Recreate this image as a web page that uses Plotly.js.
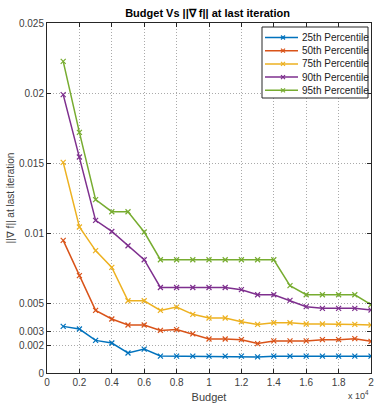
<!DOCTYPE html>
<html>
<head>
<meta charset="utf-8">
<script src="https://cdn.plot.ly/plotly-3.0.1.min.js"></script>
<style>html,body{margin:0;padding:0;background:#fff;}#chart{width:374px;height:404px;}</style>
</head>
<body>
<div id="chart"></div>
<script>
const budget = [1000,2000,3000,4000,5000,6000,7000,8000,9000,10000,11000,12000,13000,14000,15000,16000,17000,18000,19000,20000];
const p25 = [0.00333,0.00314,0.00233,0.00214,0.00143,0.00171,0.00121,0.0012,0.0012,0.0012,0.0012,0.0012,0.00115,0.0012,0.0012,0.0012,0.0012,0.0012,0.0012,0.0012];
const p50 = [0.00947,0.00695,0.00447,0.00386,0.00343,0.00343,0.00304,0.0031,0.00279,0.00243,0.00243,0.00238,0.0021,0.00229,0.00229,0.00229,0.00238,0.00238,0.00245,0.00226];
const p75 = [0.01504,0.01043,0.00874,0.00754,0.00516,0.00516,0.00447,0.00471,0.00419,0.00393,0.00393,0.00366,0.00347,0.00359,0.00359,0.0035,0.0035,0.0035,0.00347,0.00343];
const p90 = [0.01988,0.01543,0.0109,0.01011,0.00909,0.00809,0.00611,0.00611,0.00611,0.00611,0.00611,0.00595,0.00559,0.00559,0.00519,0.00474,0.00462,0.00462,0.00462,0.0045];
const p95 = [0.02226,0.01719,0.01238,0.01152,0.01152,0.01007,0.00809,0.00809,0.00809,0.00809,0.00809,0.00809,0.00809,0.00809,0.00624,0.00559,0.00559,0.00559,0.00559,0.00488];
const seriesNames = ['25th Percentile','50th Percentile','75th Percentile','90th Percentile','95th Percentile'];
const seriesData = [p25,p50,p75,p90,p95];
const colors = ['#0072BD','#D95319','#EDB120','#7E2F8E','#77AC30'];
const xTickVals = [0,2000,4000,6000,8000,10000,12000,14000,16000,18000,20000];
const xTickText = ['0','0.2','0.4','0.6','0.8','1','1.2','1.4','1.6','1.8','2'];
const yTickVals = [0,0.002,0.003,0.005,0.01,0.015,0.02,0.025];
const yTickText = ['0','0.002','0.003','0.005','0.01','0.015','0.02','0.025'];

const FONT = 'Liberation Sans, Arial, sans-serif';
const traces = seriesData.map((d,i)=>({
  x: budget, y: d, name: seriesNames[i], type:'scatter', mode:'lines+markers', showlegend:false,
  line:{color:colors[i], width:1.5},
  marker:{symbol:'x-thin-open', size:5, color:colors[i], line:{color:colors[i], width:1.2}}
}));

const axisCommon = {
  showline:true, linecolor:'#262626', linewidth:1, mirror:'ticks',
  ticks:'inside', ticklen:4, tickcolor:'#262626',
  showgrid:true, gridcolor:'#aaaaaa', griddash:'1px,2px', gridwidth:1,
  zeroline:false, ticklabeloverflow:'allow',
  tickfont:{family:FONT, size:10, color:'#404040'}
};

// manual legend (pixel layout converted to paper coords)
const PL = 47, PW = 324, PB = 373, PH = 350;
const px = v => (v - PL) / PW;
const py = v => (PB - v) / PH;
const shapes = [{type:'rect', xref:'paper', yref:'paper', x0:px(262), x1:px(368), y0:py(98), y1:py(27),
  line:{color:'#262626', width:1}, fillcolor:'#fff', layer:'above'}];
const annotations = [];
seriesNames.forEach((n,i)=>{
  const cy = 37.5 + i*13.2;
  shapes.push({type:'line', xref:'paper', yref:'paper', x0:px(265), x1:px(298), y0:py(cy), y1:py(cy),
    line:{color:colors[i], width:1.5}, layer:'above'});
  shapes.push({type:'line', xref:'paper', yref:'paper', x0:px(281), x1:px(285), y0:py(cy-2), y1:py(cy+2),
    line:{color:colors[i], width:1.2}, layer:'above'});
  shapes.push({type:'line', xref:'paper', yref:'paper', x0:px(281), x1:px(285), y0:py(cy+2), y1:py(cy-2),
    line:{color:colors[i], width:1.2}, layer:'above'});
  annotations.push({xref:'paper', yref:'paper', x:px(300), y:py(cy), xanchor:'left', yanchor:'middle',
    showarrow:false, text:n, font:{family:FONT, size:10, color:'#222'}});
});
annotations.push({xref:'paper', yref:'paper', x:1, y:0, yshift:-30, xanchor:'right', yanchor:'bottom', showarrow:false,
  text:'x 10<sup>4</sup>', font:{family:FONT, size:9, color:'#404040'}});

const layout = {
  width:374, height:404,
  margin:{l:47, r:3, t:23, b:31},
  paper_bgcolor:'#fff', plot_bgcolor:'#fff',
  font:{family:FONT, size:10, color:'#404040'},
  title:{text:'<b>Budget Vs ||∇ f|| at last iteration</b>', x:0.555, xanchor:'center', y:0.968, yanchor:'middle',
    font:{family:FONT, size:11, color:'#000'}},
  xaxis:Object.assign({}, axisCommon, {range:[0,20000], tickvals:xTickVals, ticktext:xTickText,
    title:{text:'Budget', standoff:6, font:{family:FONT, size:11, color:'#404040'}}}),
  yaxis:Object.assign({}, axisCommon, {range:[0,0.025], tickvals:yTickVals, ticktext:yTickText,
    title:{text:'||∇ f|| at last iteration', standoff:2, font:{family:FONT, size:10, color:'#404040'}}}),
  showlegend:false,
  shapes:shapes,
  annotations:annotations
};
Plotly.newPlot('chart', traces, layout, {displayModeBar:false, staticPlot:true});
</script>
</body>
</html>
